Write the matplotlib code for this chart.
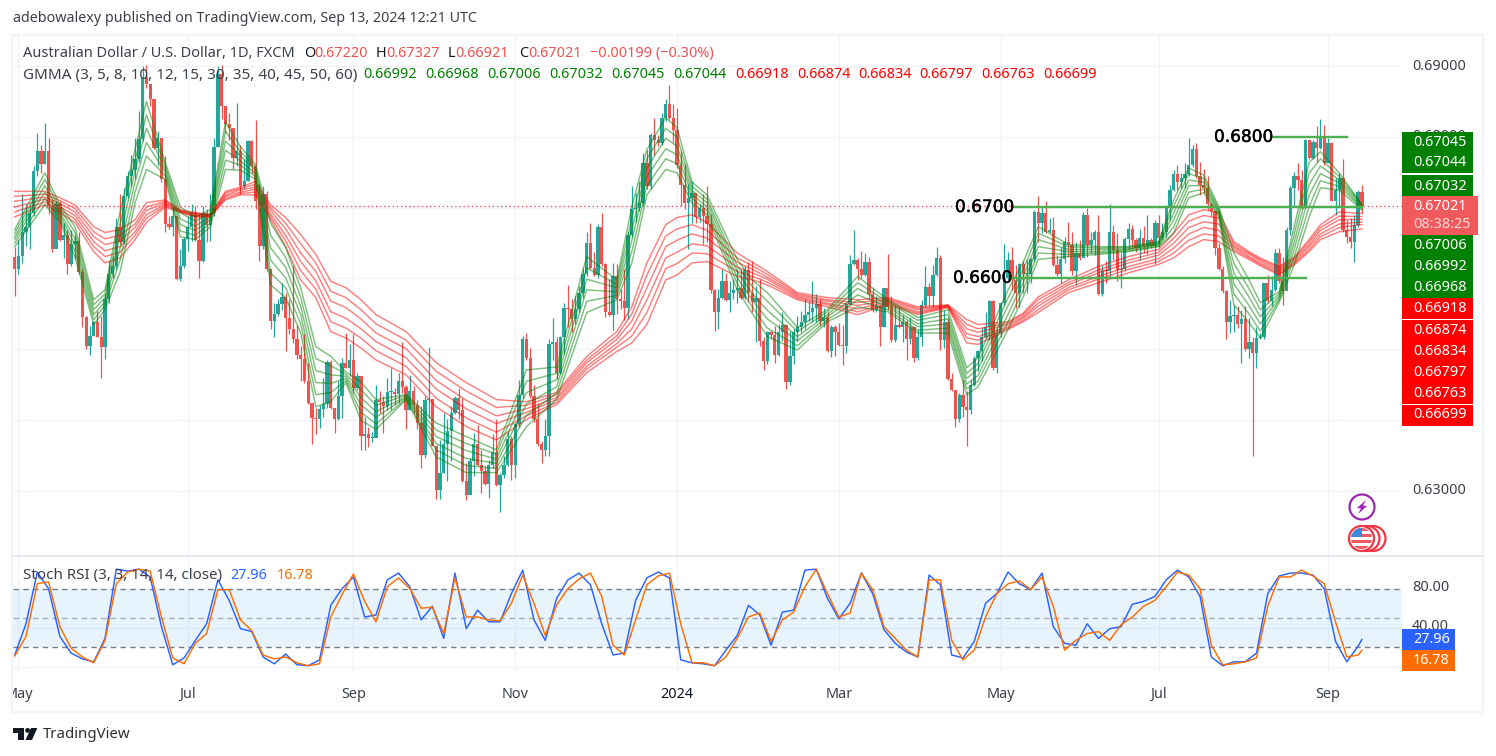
# AUD/USD daily candles with GMMA ribbons and Stoch RSI pane
import matplotlib
matplotlib.use("Agg")
import matplotlib.pyplot as plt
import matplotlib.patheffects as pe
from matplotlib.patches import Rectangle, Circle, Polygon

plt.rcParams['font.family'] = ['Noto Sans', 'DejaVu Sans']

# candles, prices in pips (0.0001)
first_open = 6631
closes = [6613,6632,6665,6672,6693,6752,6780,6761,6780,6702,
          6641,6705,6655,6661,6621,6648,6653,6609,6545,6505,
          6519,6538,6518,6503,6571,6606,6618,6672,6651,6717,
          6744,6753,6768,6797,6884,6874,6853,6784,6799,6740,
          6677,6672,6688,6599,6618,6656,6672,6693,6654,6625,
          6693,6676,6693,6786,6888,6844,6818,6813,6770,6780,
          6730,6738,6794,6759,6709,6646,6719,6613,6540,6550,
          6564,6574,6544,6528,6514,6492,6487,6455,6424,6403,
          6402,6416,6423,6482,6417,6401,6434,6481,6474,6485,
          6445,6462,6378,6380,6375,6375,6429,6425,6420,6440,
          6440,6437,6455,6447,6415,6441,6422,6396,6351,6428,
          6430,6363,6301,6326,6366,6384,6410,6431,6414,6314,
          6295,6343,6366,6336,6328,6310,6336,6355,6308,6322,
          6337,6374,6336,6394,6435,6514,6488,6434,6401,6366,
          6358,6377,6508,6510,6467,6517,6558,6557,6543,6557,
          6580,6607,6650,6615,6605,6672,6620,6553,6548,6604,
          6571,6568,6558,6661,6698,6700,6707,6763,6730,6803,
          6795,6791,6826,6847,6826,6810,6760,6732,6706,6713,
          6720,6687,6700,6688,6677,6584,6552,6573,6597,6570,
          6580,6584,6586,6573,6612,6580,6567,6573,6512,6484,
          6524,6520,6492,6524,6534,6454,6491,6525,6531,6539,
          6549,6552,6558,6564,6540,6545,6497,6532,6525,6506,
          6504,6564,6621,6626,6613,6605,6623,6578,6556,6561,
          6532,6586,6560,6513,6535,6531,6539,6515,6532,6488,
          6517,6563,6588,6575,6605,6629,6513,6539,6458,6442,
          6401,6436,6419,6414,6450,6488,6497,6518,6532,6568,
          6474,6523,6565,6600,6626,6598,6579,6621,6607,6607,
          6628,6694,6678,6692,6666,6669,6619,6607,6627,6652,
          6647,6610,6636,6629,6690,6647,6654,6666,6578,6612,
          6610,6665,6640,6612,6613,6656,6670,6655,6643,6657,
          6644,6655,6646,6678,6657,6666,6702,6725,6748,6736,
          6742,6748,6760,6783,6744,6732,6728,6705,6695,6643,
          6613,6582,6538,6547,6549,6536,6543,6500,6510,6495,
          6516,6518,6593,6568,6584,6636,6596,6582,6668,6728,
          6745,6739,6699,6795,6770,6793,6784,6798,6763,6791,
          6710,6725,6742,6668,6659,6652,6676,6722,6702.1]
highs = [6644,6655,6719,6705,6705,6759,6806,6788,6819,6798,
         6712,6709,6709,6679,6669,6669,6662,6665,6613,6547,
         6533,6540,6554,6547,6578,6625,6632,6686,6719,6728,
         6752,6775,6799,6837,6900,6901,6874,6853,6808,6799,
         6773,6688,6702,6688,6641,6658,6688,6705,6702,6691,
         6702,6698,6719,6799,6900,6901,6844,6834,6813,6848,
         6789,6768,6796,6796,6824,6733,6731,6723,6613,6566,
         6571,6593,6580,6571,6617,6535,6504,6522,6481,6424,
         6417,6422,6460,6485,6485,6417,6455,6488,6523,6508,
         6522,6467,6463,6405,6391,6383,6450,6441,6434,6460,
         6474,6445,6467,6511,6449,6464,6448,6429,6420,6434,
         6503,6429,6365,6372,6410,6401,6420,6434,6445,6431,
         6340,6347,6382,6393,6358,6335,6344,6380,6401,6326,
         6349,6383,6377,6396,6457,6519,6523,6502,6450,6424,
         6370,6401,6514,6544,6517,6519,6566,6591,6571,6575,
         6590,6615,6666,6678,6637,6677,6692,6622,6599,6622,
         6620,6585,6614,6665,6730,6720,6738,6777,6781,6806,
         6826,6803,6834,6853,6873,6847,6840,6780,6761,6734,
         6738,6719,6705,6719,6730,6691,6585,6585,6613,6608,
         6597,6599,6613,6613,6618,6623,6625,6590,6599,6517,
         6526,6526,6533,6536,6552,6536,6526,6528,6547,6554,
         6571,6568,6597,6578,6571,6559,6552,6535,6535,6537,
         6535,6566,6633,6669,6629,6639,6636,6631,6586,6575,
         6563,6587,6635,6575,6563,6560,6549,6542,6546,6521,
         6528,6570,6617,6593,6619,6645,6633,6556,6544,6466,
         6441,6438,6457,6441,6457,6490,6499,6532,6553,6570,
         6570,6530,6567,6649,6638,6645,6619,6622,6624,6626,
         6629,6697,6716,6701,6710,6685,6687,6633,6645,6659,
         6680,6666,6652,6654,6694,6699,6666,6669,6690,6619,
         6624,6705,6676,6664,6636,6658,6679,6676,6657,6670,
         6674,6690,6657,6683,6690,6678,6704,6732,6753,6760,
         6749,6763,6799,6789,6791,6765,6754,6744,6706,6695,
         6650,6617,6584,6569,6563,6561,6556,6561,6544,6518,
         6532,6523,6594,6605,6603,6641,6643,6631,6673,6731,
         6750,6763,6753,6797,6796,6796,6815,6825,6817,6798,
         6792,6742,6749,6768,6683,6685,6690,6725,6732.7]
lows = [6575,6606,6622,6646,6641,6688,6745,6749,6761,6691,
        6637,6644,6653,6629,6606,6618,6627,6607,6531,6501,
        6492,6519,6517,6460,6487,6566,6601,6613,6648,6648,
        6714,6730,6740,6764,6794,6869,6844,6783,6759,6736,
        6665,6670,6660,6598,6597,6615,6639,6653,6653,6600,
        6623,6651,6653,6688,6785,6825,6806,6796,6754,6759,
        6719,6726,6738,6749,6698,6625,6641,6611,6528,6517,
        6547,6556,6497,6521,6509,6486,6455,6453,6423,6366,
        6380,6389,6405,6417,6416,6382,6400,6403,6474,6462,
        6439,6442,6358,6358,6362,6369,6377,6410,6382,6415,
        6415,6422,6424,6438,6387,6415,6410,6388,6333,6347,
        6403,6363,6288,6288,6325,6314,6342,6408,6401,6312,
        6287,6298,6321,6335,6297,6309,6290,6333,6307,6271,
        6319,6335,6315,6319,6391,6431,6485,6431,6398,6364,
        6339,6349,6349,6485,6458,6465,6493,6531,6524,6536,
        6552,6573,6604,6614,6604,6601,6618,6545,6547,6527,
        6550,6557,6542,6543,6658,6680,6695,6703,6726,6726,
        6775,6787,6789,6822,6825,6792,6756,6703,6698,6642,
        6679,6679,6680,6648,6651,6580,6526,6528,6571,6568,
        6553,6571,6566,6571,6571,6567,6552,6511,6505,6471,
        6479,6514,6481,6491,6512,6444,6449,6479,6512,6524,
        6528,6540,6538,6538,6533,6531,6496,6489,6490,6504,
        6478,6495,6563,6619,6598,6600,6603,6572,6553,6553,
        6505,6531,6556,6511,6511,6530,6511,6485,6508,6482,
        6485,6504,6560,6563,6560,6604,6499,6502,6457,6441,
        6390,6398,6405,6363,6409,6448,6469,6483,6516,6513,
        6471,6466,6518,6563,6598,6584,6558,6560,6579,6579,
        6593,6624,6652,6664,6664,6664,6617,6604,6594,6622,
        6631,6605,6591,6626,6636,6631,6636,6633,6577,6575,
        6593,6600,6626,6596,6587,6611,6641,6641,6638,6626,
        6636,6634,6643,6621,6645,6654,6659,6683,6723,6725,
        6728,6728,6745,6758,6742,6718,6720,6697,6688,6633,
        6612,6580,6514,6523,6525,6530,6481,6497,6488,6349,
        6474,6514,6514,6565,6561,6582,6594,6562,6608,6662,
        6702,6725,6698,6699,6768,6768,6765,6783,6760,6763,
        6709,6689,6702,6666,6650,6643,6623,6673,6692.1]

# GMMA ribbons read at these bars, each list runs from the upper line to the lower one
gmma_bars = [0,8,12,16,21,24,28,32,35,40,44,48,52,56,60,64,68,72,76,80,84,88,92,96,104,112,120,128,136,144,152,160,164,168,173,176,180,
             184,192,196,200,208,216,224,232,240,248,253,256,264,268,272,280,288,296,304,308,312,316,320,324,328,331,336,340,344,347,352,358]
fast_a = [6669,6749,6704,6673,6570,6584,6694,6782,6850,6764,6701,6687,6697,6821,6786,6761,6678,6644,6587,6504,6490,6468,6454,6429,6436,6396,6377,6358,6471,6475,6631,6598,6701,6782,6827,6813,6736,
          6718,6627,6598,6580,6531,6556,6603,6570,6545,6556,6474,6488,6584,6623,6673,6648,6645,6645,6652,6711,6756,6746,6701,6636,6598,6566,6581,6673,6764,6779,6749,6704.5]
fast_b = [6664,6740,6699,6665,6563,6578,6677,6767,6831,6759,6693,6681,6692,6808,6779,6757,6661,6630,6574,6487,6477,6465,6443,6421,6435,6386,6367,6352,6455,6466,6615,6592,6685,6769,6812,6800,6730,
          6712,6618,6589,6568,6525,6553,6594,6567,6541,6549,6466,6480,6573,6613,6664,6645,6643,6644,6651,6702,6748,6741,6698,6621,6586,6556,6578,6662,6749,6769,6744,6704.4]
fast_c = [6659,6731,6694,6656,6556,6573,6660,6752,6812,6754,6684,6674,6687,6794,6773,6753,6643,6616,6561,6470,6464,6462,6432,6412,6433,6377,6357,6345,6439,6457,6599,6587,6669,6756,6798,6787,6724,
          6707,6610,6579,6555,6518,6549,6586,6563,6536,6543,6459,6472,6562,6603,6655,6641,6641,6642,6649,6692,6739,6736,6695,6607,6574,6546,6575,6651,6733,6759,6739,6703.2]
fast_d = [6655,6722,6690,6648,6549,6567,6643,6737,6792,6750,6676,6668,6683,6781,6766,6748,6626,6601,6549,6453,6452,6459,6422,6404,6432,6367,6346,6339,6423,6447,6584,6581,6654,6744,6783,6775,6719,
          6701,6601,6570,6543,6512,6546,6577,6560,6532,6536,6451,6463,6550,6594,6645,6638,6638,6641,6648,6683,6731,6731,6693,6592,6562,6536,6572,6641,6718,6748,6735,6700.6]
fast_e = [6650,6713,6685,6639,6542,6562,6626,6722,6773,6745,6667,6661,6678,6767,6760,6744,6608,6587,6536,6436,6439,6456,6411,6395,6430,6358,6336,6332,6407,6438,6568,6576,6638,6731,6769,6762,6713,
          6696,6593,6560,6530,6505,6542,6569,6556,6527,6530,6444,6455,6539,6584,6636,6634,6636,6639,6646,6673,6722,6726,6690,6578,6550,6526,6569,6630,6702,6738,6730,6699.2]
fast_f = [6645,6704,6680,6631,6535,6556,6609,6707,6754,6740,6659,6655,6673,6754,6753,6740,6591,6573,6523,6419,6426,6453,6400,6387,6429,6348,6326,6326,6391,6429,6552,6570,6622,6718,6754,6749,6707,
          6690,6584,6551,6518,6499,6539,6560,6553,6523,6523,6436,6447,6528,6574,6627,6631,6634,6638,6645,6664,6714,6721,6687,6563,6538,6516,6566,6619,6687,6728,6725,6696.8]
slow_a = [6723,6723,6714,6704,6673,6665,6669,6683,6707,6711,6697,6693,6690,6723,6729,6737,6704,6686,6662,6634,6596,6587,6570,6549,6525,6481,6453,6429,6426,6439,6490,6525,6560,6622,6676,6686,6690,
          6679,6636,6623,6610,6580,6573,6570,6573,6560,6563,6542,6535,6539,6551,6574,6598,6617,6631,6641,6664,6690,6697,6693,6652,6638,6629,6617,6630,6655,6676,6694,6691.8]
slow_b = [6716,6719,6710,6699,6666,6656,6661,6677,6701,6709,6696,6692,6689,6721,6727,6733,6700,6678,6649,6622,6582,6573,6556,6536,6513,6469,6441,6418,6421,6436,6485,6519,6550,6605,6660,6670,6676,
          6668,6629,6618,6606,6578,6570,6566,6571,6558,6562,6535,6529,6537,6549,6570,6594,6612,6626,6637,6657,6681,6689,6685,6649,6636,6627,6615,6628,6652,6672,6688,6687.4]
slow_c = [6709,6715,6706,6694,6659,6648,6653,6672,6696,6707,6695,6691,6689,6718,6725,6729,6696,6670,6636,6610,6568,6559,6543,6523,6501,6456,6428,6406,6416,6432,6481,6514,6540,6587,6645,6654,6663,
          6657,6623,6613,6602,6576,6568,6562,6569,6556,6561,6529,6524,6535,6546,6565,6591,6608,6622,6633,6650,6672,6680,6677,6646,6634,6625,6612,6626,6648,6668,6683,6683.4]
slow_d = [6701,6712,6701,6689,6652,6639,6645,6666,6690,6705,6695,6689,6688,6716,6722,6726,6691,6661,6624,6597,6553,6544,6529,6511,6488,6444,6416,6395,6411,6429,6476,6508,6529,6570,6629,6637,6649,
          6646,6616,6608,6599,6574,6565,6557,6567,6553,6561,6522,6518,6532,6544,6561,6587,6603,6617,6628,6643,6663,6672,6668,6644,6631,6622,6610,6623,6645,6663,6677,6679.7]
slow_e = [6694,6708,6697,6684,6645,6631,6637,6661,6685,6703,6694,6688,6688,6713,6720,6722,6687,6653,6611,6585,6539,6530,6516,6498,6476,6431,6403,6383,6406,6425,6472,6503,6519,6552,6614,6621,6636,
          6635,6610,6603,6595,6572,6563,6553,6565,6551,6560,6516,6513,6530,6541,6556,6584,6599,6613,6624,6636,6654,6663,6660,6641,6629,6620,6607,6621,6641,6659,6672,6676.3]
slow_f = [6687,6704,6693,6679,6638,6622,6629,6655,6679,6701,6693,6687,6687,6711,6718,6718,6683,6645,6598,6573,6525,6516,6502,6485,6464,6419,6391,6372,6401,6422,6467,6497,6509,6535,6598,6605,6622,
          6624,6603,6598,6591,6570,6560,6549,6563,6549,6559,6509,6507,6528,6539,6552,6580,6594,6608,6620,6629,6645,6655,6652,6638,6627,6618,6605,6619,6638,6655,6666,6669.9]

# Stoch RSI, read every third bar plus the last one
rsi_bars = list(range(0, 358, 3)) + [358]
rsi_k = [12,44,97,80,31,14,8,5,29,100,98,100,92,41,2,9,27,44,89,68,39,36,10,3,13,2,1,7,63,80,
         92,51,53,89,96,82,48,62,29,96,39,58,46,46,75,99,48,27,70,89,96,84,44,12,14,68,91,97,91,7,
         4,3,1,17,32,63,53,22,56,58,99,100,70,49,65,96,75,38,24,15,10,94,84,12,9,26,65,75,97,85,
         79,96,41,24,22,44,29,39,41,64,67,72,89,99,92,72,10,1,5,5,14,75,93,96,96,94,80,26,5,21,27.96]
rsi_d = [11,31,85,87,41,19,10,4,27,85,97,100,98,51,9,3,24,34,79,79,48,37,12,8,10,4,1,3,51,74,
         95,67,46,82,91,80,60,61,34,91,51,51,48,47,65,94,65,32,63,80,90,96,72,22,12,48,84,93,96,44,
         4,4,1,10,29,51,55,26,48,56,82,100,75,51,55,96,79,41,29,17,10,89,89,27,7,17,51,75,85,88,
         79,92,62,17,27,34,36,27,43,51,62,68,82,97,94,80,22,2,3,5,9,62,92,92,99,93,85,46,10,12,16.78]

# month ticks given as bar numbers
tick_bars = [1,46,90,133,176,219,262,304,349]
tick_labels = ['May','Jul','Sep','Nov','2024','Mar','May','Jul','Sep']

price_ticks = [6900,6800,6700,6600,6500,6400,6300]

fast_values = [('0.67045',142.7),('0.67044',163),('0.67032',186),('0.67006',245.7),('0.66992',266.7),('0.66968',287.7)]
slow_values = [('0.66918',308.5),('0.66874',330.7),('0.66834',351.7),('0.66797',372.7),('0.66763',393.5),('0.66699',415)]

W, H = 1496, 756
bar_x0, bar_dx = 14.7, 3.763
UP, DOWN = '#26a69a', '#ef5350'
GRID = '#f0f3fa'
INK = '#131722'


def pane(left, top, right, bottom):
    return fig.add_axes([left / W, 1 - bottom / H, (right - left) / W, (bottom - top) / H])


def bar_of(px):
    return (px - bar_x0) / bar_dx


fig = plt.figure(figsize=(W / 100, H / 100), dpi=100, facecolor='white')

# price pane
ax = pane(13, 35, 1402, 555)
ax.set_xlim(bar_of(13), bar_of(1402))
ax.set_ylim(6900 - (555 - 66) * 1.4118, 6900 + (66 - 35) * 1.4118)
ax.set_xticks(tick_bars)
ax.set_yticks(price_ticks)
ax.grid(True, color=GRID, lw=1)
ax.set_axisbelow(True)
ax.tick_params(length=0, labelbottom=False, labelleft=False)
for s in ax.spines.values():
    s.set_visible(False)

opens = [first_open] + closes[:-1]
for i in range(len(closes)):
    col = UP if closes[i] >= opens[i] else DOWN
    ax.vlines(i, lows[i], highs[i], color=col, lw=0.9, zorder=2)
    ax.bar(i, abs(closes[i] - opens[i]) or 0.8, bottom=min(opens[i], closes[i]), width=0.88, color=col, lw=0, zorder=3)

for line in [slow_a, slow_b, slow_c, slow_d, slow_e, slow_f]:
    ax.plot(gmma_bars, line, color='#ff0000', alpha=0.5, lw=1.05, zorder=4)
for line in [fast_a, fast_b, fast_c, fast_d, fast_e, fast_f]:
    ax.plot(gmma_bars, line, color='#008000', alpha=0.5, lw=1.05, zorder=4)

# last price line
ax.axhline(closes[-1], color='#f7525f', lw=1, ls=(0, (1, 2)), zorder=5)

# hand drawn levels
stroke = [pe.withStroke(linewidth=0.3, foreground='black')]
ax.plot([bar_of(1272), bar_of(1347)], [6800, 6800], color='#4caf50', lw=1.7, zorder=6)
ax.plot([bar_of(1013), bar_of(1362)], [6701, 6701], color='#4caf50', lw=1.7, zorder=6)
ax.plot([bar_of(1010), bar_of(1306)], [6601, 6601], color='#4caf50', lw=1.7, zorder=6)
for px, level, s in [(1214, 6800, '0.6800'), (955, 6701, '0.6700'), (953, 6601, '0.6600')]:
    ax.text(bar_of(px), level, s, fontsize=12.2, family='DejaVu Sans', color='black', va='center', zorder=7,
            path_effects=stroke)

# Stoch RSI pane
ax2 = pane(13, 556, 1402, 671)
ax2.set_xlim(bar_of(13), bar_of(1402))
ax2.set_ylim(-4.4, 113.5)
ax2.set_xticks(tick_bars)
ax2.set_yticks([0, 40])
ax2.grid(True, color=GRID, lw=1)
ax2.set_axisbelow(True)
ax2.tick_params(length=0, labelbottom=False, labelleft=False)
for s in ax2.spines.values():
    s.set_visible(False)
ax2.axhspan(20, 80, color='#2196f3', alpha=0.1, lw=0)
ax2.axhline(80, color='#787b86', lw=1, ls=(0, (4, 3)))
ax2.axhline(20, color='#787b86', lw=1, ls=(0, (4, 3)))
ax2.axhline(50, color='#787b86', lw=1, ls=(0, (4, 3)), alpha=0.6)
ax2.plot(rsi_bars, rsi_k, color='#2962ff', lw=1.05)
ax2.plot(rsi_bars, rsi_d, color='#ff6d00', lw=1.05)

# everything around the panes is placed in pixels
ov = fig.add_axes([0, 0, 1, 1], zorder=10)
ov.set_xlim(0, W)
ov.set_ylim(H, 0)
ov.axis('off')
ov.patch.set_alpha(0)

ov.add_patch(Rectangle((12.5, 34.5), 1471, 677, fill=False, ec=GRID, lw=1.6))
ov.plot([13, 1483], [555.5, 555.5], color='#e0e3eb', lw=1.2)

FS = 10.4


def label(x, y, s, color='#3c404a', size=FS, **kw):
    return ov.text(x, y, s, color=color, fontsize=size, va='center', **kw)


label(13, 19, 'adebowalexy published on TradingView.com, Sep 13, 2024 12:21 UTC', size=10.3)
label(23, 53.5, 'Australian Dollar / U.S. Dollar, 1D, FXCM', size=10.5)
for x, s, c in [(304, 'O', INK), (314, '0.67220', DOWN), (376, 'H', INK), (386, '0.67327', DOWN),
                (448, 'L', INK), (455, '0.66921', DOWN), (519, 'C', INK), (528, '0.67021', DOWN),
                (590, '\u22120.00199 (\u22120.30%)', DOWN)]:
    label(x, 53.5, s, color=c)
label(23, 75, 'GMMA (3, 5, 8, 10, 12, 15, 30, 35, 40, 45, 50, 60)', size=10.95)
for x, s in zip([363, 425, 487, 549, 611, 673],
                ['0.66992', '0.66968', '0.67006', '0.67032', '0.67045', '0.67044']):
    label(x, 75, s, color='#008000')
for x, s in zip([735, 797, 858, 919, 981, 1043],
                ['0.66918', '0.66874', '0.66834', '0.66797', '0.66763', '0.66699']):
    label(x, 75, s, color='#ff0000')
label(23, 575.5, 'Stoch RSI (3, 3, 14, 14, close)', size=10.9)
label(230, 575.5, '27.96', color='#2962ff')
label(277, 575.5, '16.78', color='#ff6d00')

# price axis labels, the ribbons' tags sit on top of most of them
for y, s in [(66, '0.69000'), (137, '0.68000'), (491, '0.63000'), (587.5, '80.00'), (627, '40.00'), (666, '0.00')]:
    label(1412, y, s, zorder=1)

for y0, y1, c in [(132, 173, '#008000'), (175, 196, '#008000'), (235, 298, '#008000'),
                  (298, 319, '#ff0000'), (320, 404, '#ff0000'), (405, 426, '#ff0000')]:
    ov.add_patch(Rectangle((1402, y0), 71, y1 - y0, color=c, lw=0, zorder=2))
for s, y in fast_values + slow_values:
    label(1413, y, s, color='white', zorder=3)
ov.add_patch(Rectangle((1402, 196), 76, 39, color='#f05a5c', lw=0, zorder=2))
label(1413, 206.5, '0.67021', color='white', zorder=3)
label(1413, 224.5, '08:38:25', color='#fbd5d5', zorder=3)

ov.add_patch(Rectangle((1402, 629), 53.5, 21, color='#2962ff', lw=0, zorder=2))
ov.add_patch(Rectangle((1402, 650), 53.5, 21, color='#ff6d00', lw=0, zorder=2))
label(1413, 639.5, '27.96', color='white', zorder=3)
label(1413, 660.5, '16.78', color='white', zorder=3)

# month labels, the first one is cut by the frame
clip = Rectangle((13, 672), 1470, 39, transform=ov.transData)
for b, s in zip(tick_bars, tick_labels):
    t = label(bar_x0 + b * bar_dx, 694, s, color=INK if s == '2024' else '#3c404a', ha='center',
              fontweight='bold' if s == '2024' else 'normal', clip_on=True)
    t.set_clip_path(clip)

# event markers under the chart
ov.add_patch(Circle((1362, 507), 12.5, fc='white', ec='#9c27b0', lw=1.6))
ov.add_patch(Polygon([(1366, 500), (1357, 508), (1361, 508.5), (1358, 514), (1367, 506), (1363, 505.5)], color='#9c27b0', lw=0))
for cx in [1373, 1367, 1361.5]:
    ov.add_patch(Circle((cx, 538.5), 12.5, fc='white', ec='#f23645', lw=1.6))
disc = Circle((1361.5, 538.5), 10.5, transform=ov.transData)
for y in [528, 534, 540, 546]:
    r = Rectangle((1350, y), 24, 3, color='#f0595f', lw=0)
    ov.add_patch(r)
    r.set_clip_path(disc)
r = Rectangle((1350, 527), 12, 10, color='#3f87d8', lw=0)
ov.add_patch(r)
r.set_clip_path(disc)

# logo and wordmark
ov.add_patch(Polygon([(13, 728), (24, 728), (24, 740), (18.5, 740), (18.5, 733), (13, 733)], color=INK, lw=0))
ov.add_patch(Circle((27.6, 730.4), 2.4, color=INK, lw=0))
ov.add_patch(Polygon([(31, 728), (37.3, 728), (32, 740), (25.5, 740)], color=INK, lw=0))
label(43, 734.5, 'TradingView', color='#2e3138', size=10.8)

fig.savefig('out.png', dpi=100, facecolor='white')
